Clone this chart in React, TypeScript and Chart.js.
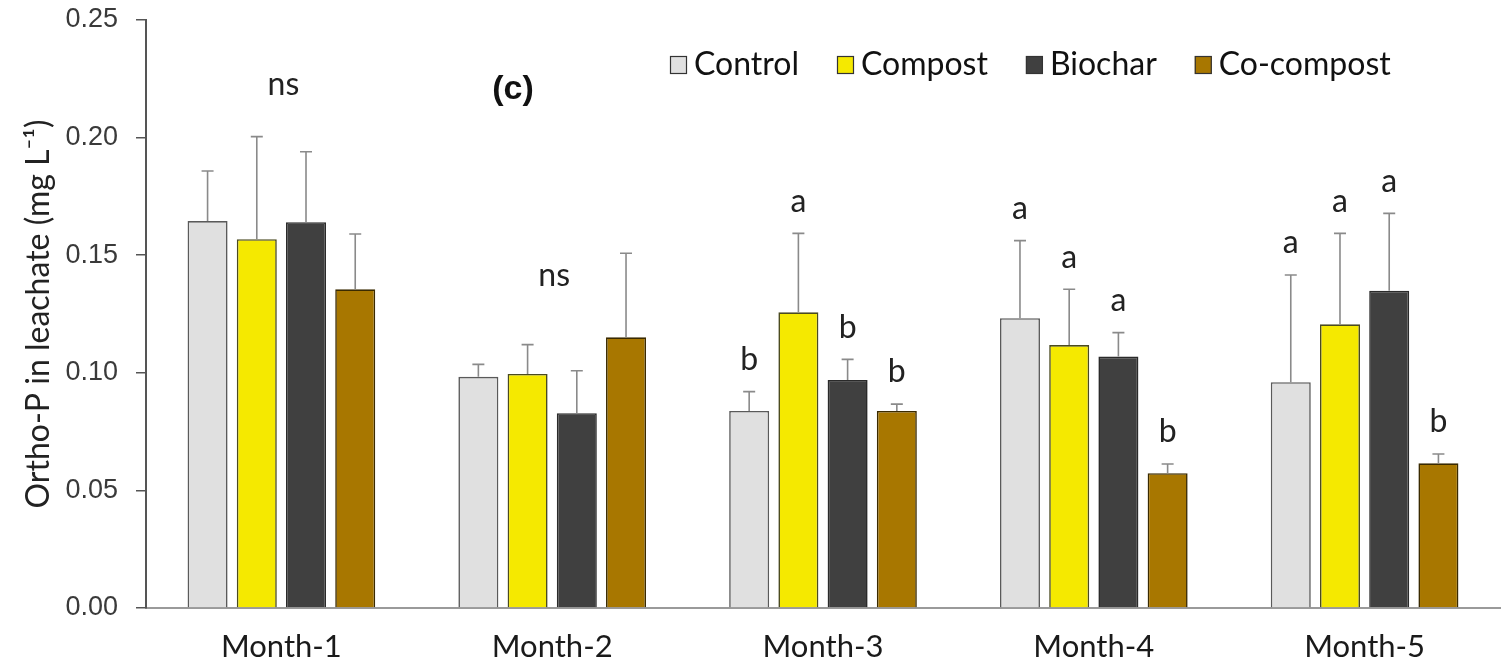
import React, { useEffect, useRef } from "react";
import { Chart, registerables } from "chart.js";

Chart.register(...registerables);

const categories = ["Month-1", "Month-2", "Month-3", "Month-4", "Month-5"];
const seriesNames = ["Control", "Compost", "Biochar", "Co-compost"];

const controlValues = [0.1645, 0.0983, 0.0838, 0.1232, 0.096];
const compostValues = [0.1568, 0.0995, 0.1257, 0.1118, 0.1206];
const biocharValues = [0.164, 0.0828, 0.0969, 0.1069, 0.1349];
const cocompostValues = [0.1355, 0.1151, 0.0838, 0.0573, 0.0615];

const controlErr = [0.0213, 0.0053, 0.0082, 0.033, 0.0456];
const compostErr = [0.0436, 0.0125, 0.0336, 0.0237, 0.0387];
const biocharErr = [0.03, 0.0181, 0.0088, 0.0102, 0.0329];
const cocompostErr = [0.0235, 0.0357, 0.0029, 0.0039, 0.004];

const controlLetters = ["", "", "b", "a", "a"];
const compostLetters = ["", "", "a", "a", "a"];
const biocharLetters = ["", "", "b", "a", "a"];
const cocompostLetters = ["", "", "b", "b", "b"];

const groupLabels = ["ns", "ns", "", "", ""];
const groupLabelValues = [0.2225, 0.1415, 0, 0, 0];

const yTicks = [0, 0.05, 0.1, 0.15, 0.2, 0.25];

const fillColors = ["#e0e0e0", "#f5e900", "#404040", "#a87700"];
const borderColors = ["#5a5a5a", "#4a4a20", "#2a2a2a", "#3a2a00"];

const errorsBySeries = [controlErr, compostErr, biocharErr, cocompostErr];
const lettersBySeries = [controlLetters, compostLetters, biocharLetters, cocompostLetters];

const LABEL_FONT = "Lato, 'Open Sans', sans-serif";

const errorBarPlugin = {
  id: "errorBars",
  afterDatasetsDraw(chart: any) {
    const ctx = chart.ctx;
    const yScale = chart.scales.y;
    ctx.save();
    chart.data.datasets.forEach((ds: any, di: number) => {
      const meta = chart.getDatasetMeta(di);
      const errs = errorsBySeries[di];
      meta.data.forEach((bar: any, i: number) => {
        const top = yScale.getPixelForValue(ds.data[i] + errs[i]);
        const base = bar.y;
        ctx.strokeStyle = "#8a8a8a";
        ctx.lineWidth = 1.6;
        ctx.beginPath();
        ctx.moveTo(bar.x, base);
        ctx.lineTo(bar.x, top);
        ctx.moveTo(bar.x - 6, top);
        ctx.lineTo(bar.x + 6, top);
        ctx.stroke();
        const letter = lettersBySeries[di][i];
        if (letter) {
          ctx.fillStyle = "#222";
          ctx.font = `32px ${LABEL_FONT}`;
          ctx.textAlign = "center";
          ctx.textBaseline = "middle";
          ctx.fillText(letter, bar.x, top - 32);
        }
      });
    });
    const xScale = chart.scales.x;
    groupLabels.forEach((lab, i) => {
      if (!lab) return;
      ctx.fillStyle = "#222";
      ctx.font = `32px ${LABEL_FONT}`;
      ctx.textAlign = "center";
      ctx.textBaseline = "middle";
      ctx.fillText(lab, xScale.getPixelForValue(i) + 2, yScale.getPixelForValue(groupLabelValues[i]));
    });
    ctx.restore();
  },
};

const legendPlugin = {
  id: "customLegend",
  afterDraw(chart: any) {
    const ctx = chart.ctx;
    const area = chart.chartArea;
    ctx.save();
    let x = area.left + 524;
    const cy = area.top + 45;
    ctx.font = `32px ${LABEL_FONT}`;
    ctx.textBaseline = "middle";
    ctx.textAlign = "left";
    chart.data.datasets.forEach((ds: any) => {
      ctx.fillStyle = ds.backgroundColor;
      ctx.fillRect(x, cy - 9, 17, 18);
      ctx.strokeStyle = "#333";
      ctx.lineWidth = 1.2;
      ctx.strokeRect(x + 0.5, cy - 8.5, 16, 17);
      ctx.fillStyle = "#111";
      ctx.fillText(ds.label, x + 24, cy);
      x += 24 + ctx.measureText(ds.label).width + 38;
    });
    ctx.font = `bold 34px 'Liberation Sans', Arial, sans-serif`;
    ctx.textAlign = "center";
    ctx.fillStyle = "#111";
    ctx.fillText("(c)", area.left + 367, area.top + 70);
    ctx.restore();
  },
};

export default function App() {
  const canvasRef = useRef<HTMLCanvasElement>(null);

  useEffect(() => {
    document.body.style.margin = "0";
    const canvas = canvasRef.current;
    if (!canvas) return;
    const datasets = [controlValues, compostValues, biocharValues, cocompostValues].map((vals, i) => ({
      label: seriesNames[i],
      data: vals,
      backgroundColor: fillColors[i],
      borderColor: borderColors[i],
      borderWidth: 1.6,
      borderSkipped: "bottom" as const,
      categoryPercentage: 0.727,
      barPercentage: 0.813,
    }));
    const chart = new Chart(canvas, {
      type: "bar",
      data: { labels: categories, datasets },
      options: {
        animation: false,
        responsive: true,
        maintainAspectRatio: false,
        layout: { padding: { top: 20, right: 4, left: 0, bottom: 0 } },
        plugins: {
          legend: { display: false },
          tooltip: { enabled: false },
        },
        scales: {
          x: {
            grid: { display: false, drawTicks: false },
            border: { display: true, color: "#9a9a9a", width: 2 },
            ticks: {
              color: "#1a1a1a",
              font: { family: LABEL_FONT, size: 31 },
              padding: 20,
            },
            afterFit(scale: any) {
              scale.height = 59;
              scale.paddingLeft = 0;
              scale.paddingRight = 0;
            },
          },
          y: {
            min: 0,
            max: 0.25,
            afterBuildTicks(scale: any) {
              scale.ticks = yTicks.map((v) => ({ value: v }));
            },
            grid: {
              drawOnChartArea: false,
              drawTicks: true,
              tickLength: 10,
              color: "#555",
              lineWidth: 1.5,
            },
            border: { display: true, color: "#555", width: 2 },
            ticks: {
              color: "#3a3a3a",
              font: { family: "'Liberation Sans', Arial, sans-serif", size: 27 },
              padding: 18,
              callback: (v: any) => Number(v).toFixed(2),
            },
            title: {
              display: true,
              text: "Ortho-P in leachate (mg L\u207B\u00B9)",
              color: "#222",
              font: { family: LABEL_FONT, size: 32 },
              padding: { top: 19, bottom: 0 },
            },
            afterFit(scale: any) {
              scale.width = 146;
              scale.paddingTop = 0;
              scale.paddingBottom = 0;
            },
          },
        },
      },
      plugins: [errorBarPlugin, legendPlugin],
    });
    return () => chart.destroy();
  }, []);

  return (
    <div style={{ position: "relative", width: 1504, height: 667 }}>
      <canvas ref={canvasRef} />
    </div>
  );
}
